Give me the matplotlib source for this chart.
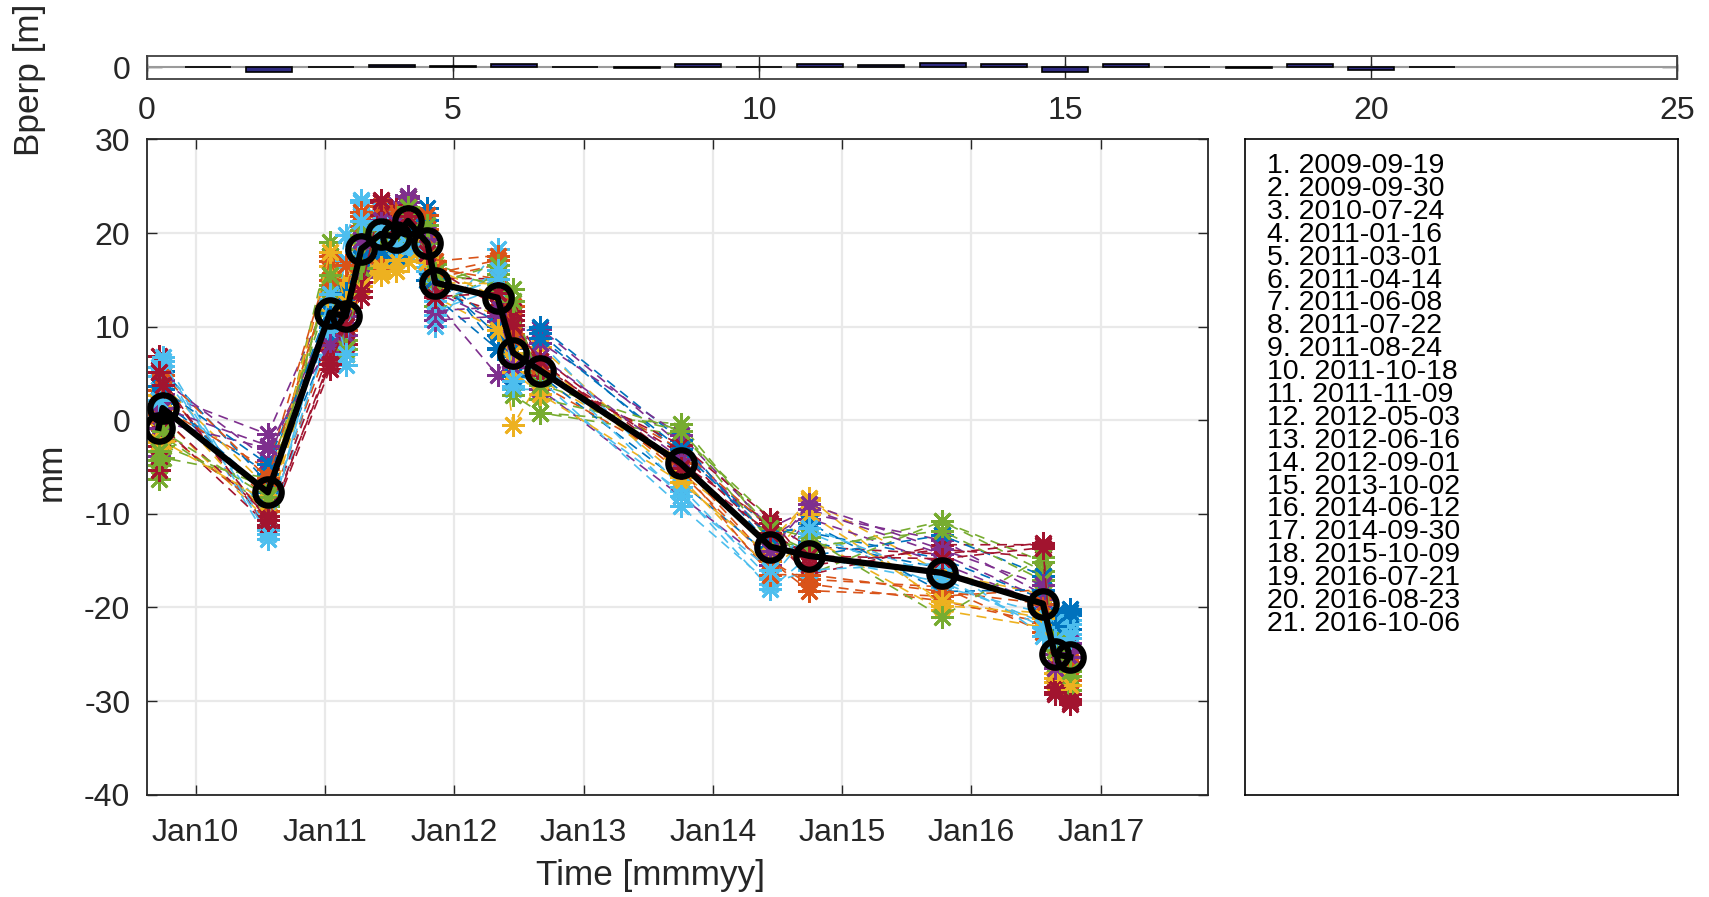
import numpy as np
import matplotlib
matplotlib.use('Agg')
import matplotlib.pyplot as plt
import matplotlib.dates as mdates

plt.rcParams['font.family'] = ['Liberation Sans', 'DejaVu Sans']
plt.rcParams['axes.unicode_minus'] = False

# acquisition dates (master list shown on the right)
dates = ['2009-09-19', '2009-09-30', '2010-07-24', '2011-01-16', '2011-03-01',
         '2011-04-14', '2011-06-08', '2011-07-22', '2011-08-24', '2011-10-18',
         '2011-11-09', '2012-05-03', '2012-06-16', '2012-09-01', '2013-10-02',
         '2014-06-12', '2014-09-30', '2015-10-09', '2016-07-21', '2016-08-23',
         '2016-10-06']

# mean displacement (black line), mm
mean_mm = [-0.8, 1.3, -7.7, 11.5, 11.1, 18.3, 19.9, 19.6, 21.3, 18.9, 14.7,
           13.1, 7.2, 5.3, -4.6, -13.5, -14.5, -16.3, -19.6, -25.0, -25.3]

# perpendicular baselines, m (top bar panel)
bperp = [0, -95, 0, 60, 40, 85, 15, -15, 75, 0, 90, 60, 110, 85, -100, 90,
         10, -20, 70, -55, 0]

# individual pixels, deviation from the mean (mm), one row per pixel
dev_mm = [
    [2.5, 4.0, 1.0, -1.5, 0.5, -0.5, 1.0, 0.0, 0.5, 3.8, 1.5, -5.4, -3.5, 4.0, 1.0, 2.0, 2.5, 1.5, 0.5, 2.0, 5.1],
    [4.0, 2.0, -1.0, 6.0, 3.5, 2.5, 1.5, 1.0, 0.5, 2.0, 0.5, 3.5, 3.0, 1.0, -1.0, -1.5, -3.7, -2.5, 1.5, -1.5, 0.0],
    [-2.0, -1.0, -3.0, 5.0, 4.0, 0.5, -4.4, -3.0, -1.5, -1.0, -0.5, -2.0, -7.7, -1.0, 0.5, -0.5, 6.2, -3.5, -1.0, -2.5, -2.0],
    [3.0, 1.5, 6.2, 2.0, -1.0, -1.5, -2.5, 1.0, 2.7, -1.0, -2.0, -8.3, 2.5, 4.5, 2.0, 1.0, 4.5, 3.5, 1.0, 0.0, -1.5],
    [-5.5, -3.0, -1.5, 7.5, -4.0, 0.0, 2.0, 2.5, 2.5, 1.0, 2.0, 1.0, 6.8, -4.5, 4.2, 1.5, 0.5, 5.5, 3.5, 1.0, -3.0],
    [1.5, 4.5, -5.0, -1.0, 8.7, 5.2, 3.0, 0.5, -1.0, -2.5, -4.6, 5.2, -3.9, -2.0, -3.0, -4.5, 0.0, -1.0, -2.0, 3.0, 4.0],
    [7.7, 3.0, -3.8, -6.0, -2.0, -5.1, 3.4, 2.0, 0.0, 1.5, 0.5, 2.0, 4.0, 1.5, 0.0, 2.5, 1.0, 2.0, 6.5, -4.3, -4.0],
    [-1.0, 0.5, 2.0, 1.0, 1.5, 2.0, 0.0, -1.5, -2.0, -3.9, -1.5, -5.5, 0.5, -0.5, -2.0, -1.0, 1.5, 0.5, -0.5, 4.3, 3.0],
    [0.5, -2.5, -2.0, -3.0, -1.5, 3.5, -3.0, -2.0, -2.5, -0.5, 1.0, 4.0, 1.5, 0.0, 1.5, 2.0, -2.5, -1.5, -3.0, -1.0, -2.5],
    [1.0, 2.5, 0.5, 4.0, 2.5, -2.5, -1.5, 1.5, -3.0, 1.0, 1.5, 0.0, -1.0, 2.5, -1.0, 0.5, 6.0, 0.0, 1.0, 1.5, 1.0],
    [-3.0, -1.5, 4.7, -2.0, 1.0, -3.0, 2.5, 3.4, 2.5, 2.5, -1.0, -2.5, -1.5, -2.0, -3.5, -2.0, 4.0, 1.0, 0.0, -2.0, 0.5],
    [-4.0, -5.3, 1.5, 3.0, -2.5, 1.5, 0.5, -0.5, 2.5, 0.0, -2.5, 2.5, -4.5, -4.5, 3.0, 3.0, -2.0, 5.5, 4.5, -1.0, -3.5],
    [5.5, 5.5, -4.0, 1.5, -5.2, 5.0, -1.0, -2.5, -3.5, -1.5, -3.0, 1.0, -3.5, 3.0, -2.5, -3.5, 2.5, -1.5, -1.0, 2.5, 2.5],
    [-4.5, -2.0, -3.5, -5.0, 1.0, -4.0, 3.4, 2.5, 1.0, -2.0, -1.0, -1.5, 3.5, 0.5, 1.0, 1.0, -2.0, 3.0, 6.3, -4.0, -4.5],
    [2.0, 1.0, 0.0, -2.5, -1.0, 1.0, 1.5, -1.0, -1.5, 3.0, 1.0, -3.0, 2.0, 4.7, 2.5, 0.0, 0.0, 4.0, 3.0, 4.0, 4.5],
    [-2.5, 0.0, 2.5, 5.5, 2.0, 3.0, 2.0, 0.5, 1.5, 1.5, 2.3, 4.5, 5.0, -1.5, 0.0, -1.5, -3.0, -3.0, -2.0, -2.0, -1.0],
    [3.5, 1.0, -2.5, 1.0, 3.0, -1.0, -4.0, -3.6, -4.3, -1.5, 0.0, 1.5, 0.0, 1.0, -1.5, -2.5, 2.0, -4.0, -2.5, -3.0, -1.5],
    [0.0, 3.0, 3.5, 0.0, 0.0, -2.0, 3.0, 2.0, 2.5, 0.5, -4.0, -2.0, 2.0, 3.0, 3.0, 2.0, 5.0, 2.0, 0.5, 0.5, 1.5],
    [-3.5, -4.0, 0.5, 2.5, -4.0, 2.0, 1.0, 1.5, 0.0, -0.5, 0.0, 3.5, 3.0, -3.0, 3.5, 0.5, 1.0, 4.5, 2.5, 2.0, -2.0],
    [6.5, 3.5, -2.5, -2.0, 6.0, 4.0, 2.5, 1.0, -2.0, -3.0, -3.5, 3.0, -2.5, -1.0, -4.6, -4.0, -1.5, 1.0, -3.4, 3.5, 3.5],
    [-2.0, -1.0, -2.5, -4.0, -3.0, -3.5, 2.0, 3.0, 1.5, 1.0, 1.5, -1.0, 4.5, -0.5, 2.0, 3.0, -1.0, 2.5, 5.0, -3.5, -4.8],
    [4.5, 2.0, 3.0, 0.0, 2.5, -1.0, -2.0, -2.0, -1.0, 2.5, 0.5, -4.0, -2.5, 3.5, 1.5, 1.0, 3.5, -2.0, 1.5, 3.0, 4.8],
    [1.5, 3.5, 1.5, 3.5, 5.5, 4.0, 3.0, 2.5, 2.0, 3.0, 1.5, 2.0, 2.0, 0.5, -0.5, -3.0, -2.0, -2.0, 0.0, 0.5, -0.5],
    [-1.5, -3.5, -1.0, 6.5, 1.5, -4.0, -3.5, -2.5, -2.0, -2.0, -1.5, -3.5, -2.0, -2.5, -2.0, -1.0, 4.5, -3.0, -1.5, -2.0, -3.0],
    [2.0, 0.0, 5.0, -3.5, -2.0, 1.0, 1.5, 1.5, 2.0, 1.0, -3.0, -1.0, -1.5, 1.5, 0.5, -0.5, 5.5, 2.5, 2.0, -1.5, 0.0],
    [-2.5, -2.5, -0.5, 4.0, -3.5, -2.0, 0.0, 0.0, 1.5, 2.0, 1.0, 1.5, 5.5, -1.5, 3.5, 2.0, 2.0, -4.7, 5.0, 0.5, -1.5],
    [3.0, 5.0, -4.5, 2.0, -4.0, 3.0, 0.5, -1.0, -2.5, -1.0, -2.0, 2.0, -3.0, 1.0, -3.5, -2.5, 3.0, -0.5, -2.5, 1.5, 2.0],
    [6.0, 2.5, -3.0, -5.5, -1.0, -4.5, 3.6, 1.0, 0.5, -1.0, -1.5, 0.5, 3.0, 1.0, -0.5, 1.5, 0.0, 1.5, 6.0, -4.0, -5.0],
]

colors = ['#0072BD', '#D95319', '#EDB120', '#7E2F8E', '#77AC30', '#4DBEEE', '#A2142F']

W, H = 1709, 897
t = np.array(dates, dtype='datetime64[D]')
tk = '#262626'

fig = plt.figure(figsize=(W / 100, H / 100), dpi=100)

# --- Bperp panel
ax0 = fig.add_axes([147 / W, 1 - 79 / H, 1530 / W, 23 / H])
ax0.axhline(0, color='#9a9a9a', lw=1.5, zorder=2)
ax0.bar(np.arange(1, len(bperp) + 1), bperp, width=0.75, color='#2e2a80',
        edgecolor='black', lw=1.2, zorder=3)
ax0.set_xlim(0, 25)
ax0.set_ylim(-260, 260)
ax0.set_xticks(range(0, 26, 5))
ax0.set_yticks([0])
ax0.tick_params(direction='in', length=11, width=1, top=True, right=True,
                labelsize=23, pad=12, color=tk, labelcolor=tk)
for s in ax0.spines.values():
    s.set_color('#404040')
    s.set_linewidth(1.3)

# --- time series panel
ax = fig.add_axes([147 / W, 1 - 794.6 / H, 1061 / W, 655.1 / H])
for k, dev in enumerate(dev_mm):
    ax.plot(t, np.array(mean_mm) + np.array(dev), ls=(0, (6, 4)), lw=1.2,
            color=colors[k % 7], marker=(8, 2, 0), ms=16, mew=2.0, zorder=2)
ax.plot(t, mean_mm, '-o', color='k', lw=4.5, ms=19, mfc='none', mew=4.5, zorder=3)

ax.set_xlim(np.datetime64('2009-08-17'), np.datetime64('2017-10-30'))
ax.set_ylim(-40, 30)
ax.set_yticks(range(-40, 31, 10))
ax.xaxis.set_major_locator(mdates.YearLocator())
ax.xaxis.set_major_formatter(mdates.DateFormatter('%b%y'))
ax.grid(True, color='#e9e9e9', lw=1.6)
ax.set_axisbelow(True)
ax.tick_params(direction='in', length=7.5, width=1, top=True, right=True,
               labelsize=23, color=tk, labelcolor=tk)
ax.tick_params(axis='x', pad=17)
ax.tick_params(axis='y', pad=12)
for s in ax.spines.values():
    s.set_color(tk)
    s.set_linewidth(1.3)

fig.text(30 / W, 1 - 80 / H, 'Bperp [m]', rotation=90, ha='center', va='center',
         fontsize=25.3, color=tk)
fig.text(51 / W, 1 - 472 / H, 'mm', rotation=90, ha='center', va='center',
         fontsize=25.3, color=tk)
fig.text(651 / W, 1 - 875 / H, 'Time [mmmyy]', ha='center', va='center',
         fontsize=25.3, color=tk)

# --- date list box
axl = fig.add_axes([1245 / W, 1 - 794.6 / H, 433 / W, 655.1 / H])
axl.set_xticks([])
axl.set_yticks([])
for s in axl.spines.values():
    s.set_color('black')
    s.set_linewidth(1.2)
for i, d in enumerate(dates):
    fig.text(1267 / W, 1 - (173 + i * 22.9) / H, f'{i + 1}. {d}',
             ha='left', va='baseline', fontsize=20.5, color='black')

fig.savefig('out.png', dpi=100)
